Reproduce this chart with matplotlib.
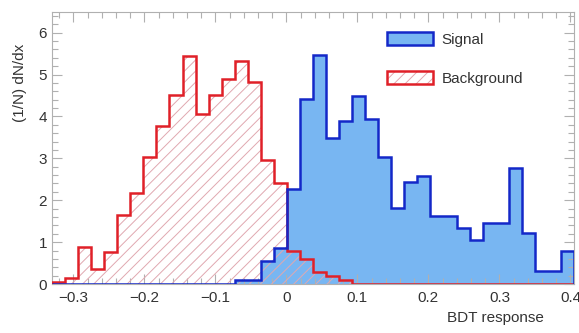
#!/usr/bin/env python3
"""BDT response: signal vs background normalised histograms."""

import matplotlib

matplotlib.use("Agg")
import matplotlib.pyplot as plt
import numpy as np
from matplotlib.legend_handler import HandlerTuple
from matplotlib.patches import Patch

# 40 bins over the BDT range
bin_lo, bin_hi, n_bins = -0.33, 0.405, 40

signal = [
    0.0, 0.0, 0.0, 0.0, 0.0, 0.0, 0.0, 0.0, 0.0, 0.0,
    0.0, 0.0, 0.0, 0.0, 0.1, 0.1, 0.55, 0.87, 2.28, 4.42,
    5.46, 3.48, 3.9, 4.48, 3.94, 3.02, 1.82, 2.44, 2.58, 1.62,
    1.62, 1.34, 1.06, 1.46, 1.46, 2.78, 1.22, 0.32, 0.32, 0.8,
]
background = [
    0.05, 0.15, 0.88, 0.36, 0.76, 1.64, 2.18, 3.02, 3.76, 4.5,
    5.44, 4.06, 4.5, 4.9, 5.32, 4.82, 2.96, 2.4, 0.78, 0.6,
    0.28, 0.2, 0.1, 0.0, 0.0, 0.0, 0.0, 0.0, 0.0, 0.0,
    0.0, 0.0, 0.0, 0.0, 0.0, 0.0, 0.0, 0.0, 0.0, 0.0,
]
labels = ["Signal", "Background"]

SIG_FILL = "#78b6f2"
SIG_EDGE = "#1428c8"
BKG_EDGE = "#e02028"
BKG_HATCH = "#e0a8b0"
TEXT = "#333333"
FRAME = "#b0b0b0"

plt.rcParams["font.family"] = ["Liberation Sans", "DejaVu Sans"]
plt.rcParams["hatch.linewidth"] = 0.7

edges = np.linspace(bin_lo, bin_hi, n_bins + 1)

fig = plt.figure(figsize=(5.79, 3.33), dpi=100)
ax = fig.add_axes([0.0898, 0.147, 0.9016, 0.818])

ax.stairs(signal, edges, fill=True, color=SIG_FILL, lw=0, zorder=1)
ax.stairs(background, edges, fill=True, facecolor="none", edgecolor=BKG_HATCH,
          hatch="///", lw=0, zorder=2)
ax.stairs(background, edges, color=BKG_EDGE, lw=1.8, zorder=3)
ax.stairs(signal, edges, color=SIG_EDGE, lw=1.8, zorder=4)

ax.set_xlim(bin_lo, bin_hi)
ax.set_ylim(0, 6.5)
ax.set_xticks(np.arange(-0.3, 0.41, 0.1))
ax.set_xticklabels(["\u22120.3", "\u22120.2", "\u22120.1", "0", "0.1", "0.2", "0.3", "0.4"])
ax.set_xticks(np.arange(-0.32, 0.405, 0.02), minor=True)
ax.set_yticks(range(0, 7))
ax.set_yticks(np.arange(0, 6.5, 0.2), minor=True)

for s in ax.spines.values():
    s.set_color(FRAME)
    s.set_linewidth(0.8)
ax.tick_params(which="both", direction="in", top=True, right=True, color=FRAME,
               labelsize=11, labelcolor=TEXT, width=0.8)
ax.tick_params(which="major", length=7)
ax.tick_params(which="minor", length=4)
ax.tick_params(axis="x", pad=5)

ax.set_ylabel("(1/N) dN/dx", fontsize=11, color=TEXT)
ax.yaxis.set_label_coords(-0.048, 0.74)
ax.set_xlabel("BDT response", fontsize=11, color=TEXT)
ax.xaxis.set_label_coords(0.85, -0.1)

sig_h = Patch(facecolor=SIG_FILL, edgecolor=SIG_EDGE, lw=1.8)
bkg_hatch = Patch(facecolor="white", edgecolor=BKG_HATCH, hatch="///", lw=0)
bkg_edge = Patch(facecolor="none", edgecolor=BKG_EDGE, lw=1.8)
ax.legend([sig_h, (bkg_hatch, bkg_edge)], labels,
          handler_map={tuple: HandlerTuple(ndivide=1, pad=0)},
          loc="upper left", bbox_to_anchor=(0.615, 0.975), frameon=False,
          fontsize=11, labelcolor=TEXT, handlelength=3.0, handleheight=0.9,
          handletextpad=0.6, labelspacing=1.6)

fig.savefig("out.png", dpi=100)
